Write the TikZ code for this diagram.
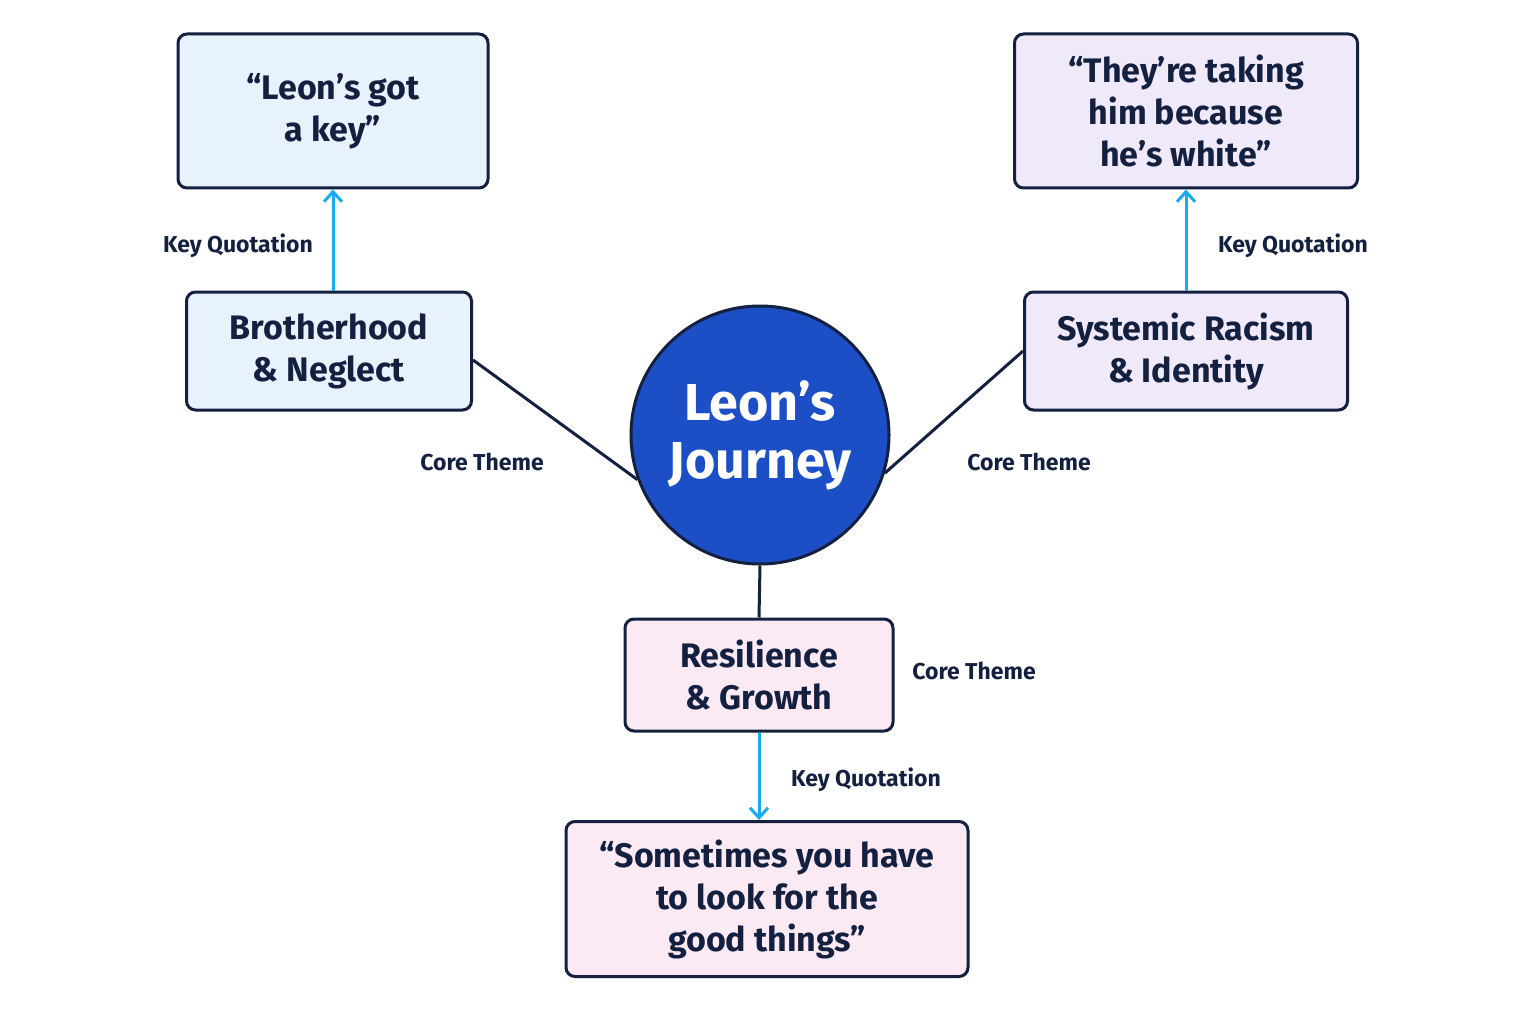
\documentclass[tikz,border=0pt]{standalone}
\usepackage{fontspec}
\setmainfont{Fira Sans}
\usetikzlibrary{arrows.meta}
\definecolor{navy}{HTML}{14203F}
\definecolor{cblue}{HTML}{1C4FC6}
\definecolor{cyanl}{HTML}{1AAAF0}
\definecolor{fblue}{HTML}{E8F2FD}
\definecolor{flav}{HTML}{EFE9FA}
\definecolor{fpink}{HTML}{FBE9F3}
\tikzset{
 box/.style={draw=navy,line width=3pt,rounded corners=9pt,align=center,text=navy,font=\fontsize{34}{42}\selectfont\bfseries,inner sep=0pt},
 lbl/.style={text=navy,font=\fontsize{23}{28}\selectfont\bfseries},
 link/.style={draw=navy,line width=3pt},
 qarrow/.style={draw=cyanl,line width=3pt,-{Straight Barb[length=10pt,width=18pt,line width=3pt]}}
}
\begin{document}
\begin{tikzpicture}[x=1pt,y=-1pt]
\fill[white] (0,0) rectangle (1536,1024);
\useasboundingbox (0,0) rectangle (1536,1024);
\node[box,fill=fblue,minimum width=310pt,minimum height=154pt] (q1) at (333,111) {“Leon's got\\a key”};
\node[box,fill=flav,minimum width=343pt,minimum height=154pt] (q2) at (1186,111) {“They're taking\\him because\\he's white”};
\node[box,fill=fblue,minimum width=285pt,minimum height=118pt] (b) at (329,351) {Brotherhood\\\& Neglect};
\node[box,fill=flav,minimum width=323pt,minimum height=118pt] (s) at (1186,351) {Systemic Racism\\\& Identity};
\node[box,fill=fpink,minimum width=268pt,minimum height=112pt] (r) at (759,675) {Resilience\\\& Growth};
\node[box,fill=fpink,minimum width=402pt,minimum height=155pt] (q3) at (767,899) {“Sometimes you have\\to look for the\\good things”};
\node[circle,draw=navy,line width=3pt,fill=cblue,minimum size=258pt,text=white,align=center,font=\fontsize{52}{58}\selectfont\bfseries] (c) at (760,435) {Leon's\\Journey};
\draw[link] (b.east) ++(0,9) -- (c.200);
\draw[link] (s.west) -- (c.-17);
\draw[link] (c.south) -- (r.north);
\draw[qarrow] (b.north -| q1) ++(0,0) -- (q1.south);
\draw[qarrow] (s.north) -- (q2.south);
\draw[qarrow] (r.south) -- (r.south |- q3.north);
\node[lbl] (l1) at (238,246) {Key Quotation};
\node[lbl] (l2) at (1293,246) {Key Quotation};
\node[lbl] (l3) at (866,780) {Key Quotation};
\node[lbl] (c1) at (482,462) {Core Theme};
\node[lbl] (c2) at (1029,462) {Core Theme};
\node[lbl] (c3) at (974,671) {Core Theme};
\end{tikzpicture}
\end{document}
